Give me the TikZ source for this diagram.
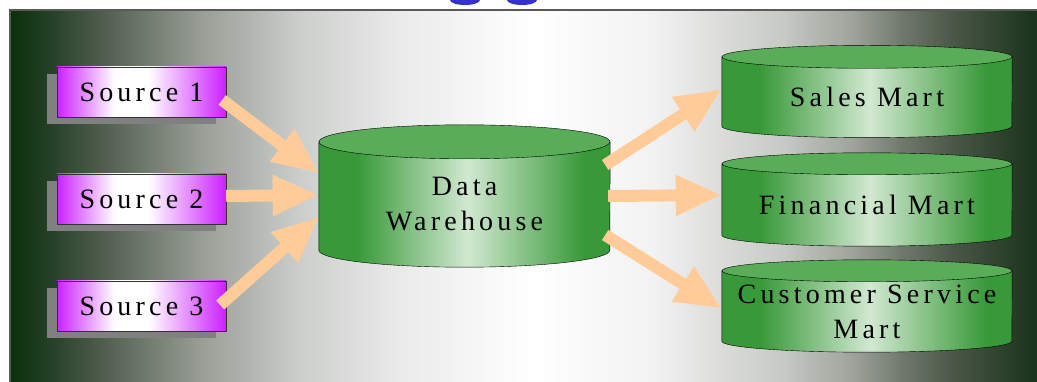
\documentclass[tikz,border=0pt]{standalone}
\usepackage{fontspec}
\newfontfamily\slidefont[LetterSpace=15]{Liberation Serif}
\usepackage{tikz}
\usetikzlibrary{arrows.meta}
\usetikzlibrary{shadows}

\definecolor{mag}{rgb}{.80,.13,1}
\definecolor{peach}{rgb}{1,.8,.6}
\definecolor{drumtop}{rgb}{.35,.68,.35}
\definecolor{titleblue}{rgb}{.2,.2,.8}

\pgfdeclarehorizontalshading{bgshade}{100bp}{rgb(0bp)=(.04,.19,.04); rgb(25bp)=(.04,.19,.04);
  rgb(26.9bp)=(.14,.25,.15); rgb(29.4bp)=(.31,.36,.30); rgb(34.3bp)=(.60,.62,.59);
  rgb(39.1bp)=(.80,.81,.80); rgb(44bp)=(.92,.92,.92); rgb(50.3bp)=(1,1,1);
  rgb(56.2bp)=(.95,.95,.95); rgb(62.5bp)=(.78,.79,.77); rgb(65.9bp)=(.62,.64,.61);
  rgb(68.3bp)=(.44,.47,.42); rgb(70.8bp)=(.29,.34,.28); rgb(75bp)=(.09,.19,.09);
  rgb(100bp)=(.09,.19,.09)}
\pgfdeclarehorizontalshading{drumshade}{100bp}{rgb(0bp)=(.22,.6,.22); rgb(31.5bp)=(.22,.6,.22);
  rgb(50.5bp)=(.82,.91,.82); rgb(70.5bp)=(.22,.6,.22); rgb(100bp)=(.22,.6,.22)}
\pgfdeclarehorizontalshading{srcshade}{100bp}{rgb(0bp)=(.80,.13,1); rgb(25bp)=(.80,.13,1);
  rgb(42bp)=(1,1,1); rgb(52bp)=(1,1,1); rgb(75bp)=(.80,.13,1); rgb(100bp)=(.80,.13,1)}

\pgfdeclarelayer{back}
\pgfdeclarelayer{mid}
\pgfsetlayers{back,mid,main}

% drum around a node: name, x radius, y radius
\newcommand{\drum}[3]{%
  \begin{pgfonlayer}{mid}
    \shadedraw[shading=drumshade, thin] ([yshift=#3]#1.north west) -- (#1.south west)
      arc[start angle=180, end angle=360, x radius=#2, y radius=#3] -- ([yshift=#3]#1.north east) -- cycle;
    \filldraw[fill=drumtop, thin] ([yshift=#3]#1.north) ellipse [x radius=#2, y radius=#3];
  \end{pgfonlayer}}

\begin{document}
\begin{tikzpicture}[
      x=1pt, y=1pt,
      every node/.style={font=\slidefont\fontsize{28}{35}\selectfont, inner sep=0pt, align=center},
      source/.style={draw=black!80, thin, shading=srcshade, minimum width=169, minimum height=50,
                     drop shadow={shadow xshift=-10pt, shadow yshift=-7pt, opacity=1, fill=gray}},
      flow/.style={draw=peach, line width=12pt, -{Triangle[length=46pt, width=38pt]}}]
        \useasboundingbox (0,0) rectangle (1037,-382);

        \begin{pgfonlayer}{back}
        \shadedraw[shading=bgshade, draw=black!65, line width=1.2pt] (10,-10) rectangle (1040,-390);
        \end{pgfonlayer}

        % title, cut off above
        \fill[titleblue] (465,0) ellipse [x radius=15, y radius=5];
        \fill[titleblue] (522,0) ellipse [x radius=15, y radius=5];

        \node[source] (source1) at (141.5,-92) {Source 1};
        \node[source] (source2) at (141.5,-199) {Source 2};
        \node[source] (source3) at (141.5,-306) {Source 3};

        \node[minimum width=291, minimum height=91] (warehouse) at (464.5,-204.5) {Data\\Warehouse};
        \drum{warehouse}{145.5}{17}

        \node[minimum width=290, minimum height=57.5] (sales) at (867,-97.25) {Sales Mart};
        \node[minimum width=290, minimum height=60] (financial) at (867,-205) {Financial Mart};
        \node[minimum width=290, minimum height=59] (customer) at (867,-311.5) {Customer Service\\Mart};
        \foreach \m/\ry in {sales/11.5, financial/11, customer/11}
          {\drum{\m}{145}{\ry}}

        % in
        \draw[flow] ([shift={(-4,-8)}]source1.east) -- ([yshift=31.5]warehouse.west);
        \draw[flow] ([yshift=3]source2.east) -- ([yshift=9.5]warehouse.west);
        \draw[flow] ([shift={(-6,1)}]source3.east) -- ([yshift=-12.5]warehouse.west);

        % out
        \draw[flow] ([shift={(-5,39.5)}]warehouse.east) -- ([yshift=8]sales.west);
        \draw[flow] ([shift={(-2,8.5)}]warehouse.east) -- ([yshift=10]financial.west);
        \draw[flow] ([shift={(-5,-30.5)}]warehouse.east) -- ([yshift=3]customer.west);

      \end{tikzpicture}
\end{document}
